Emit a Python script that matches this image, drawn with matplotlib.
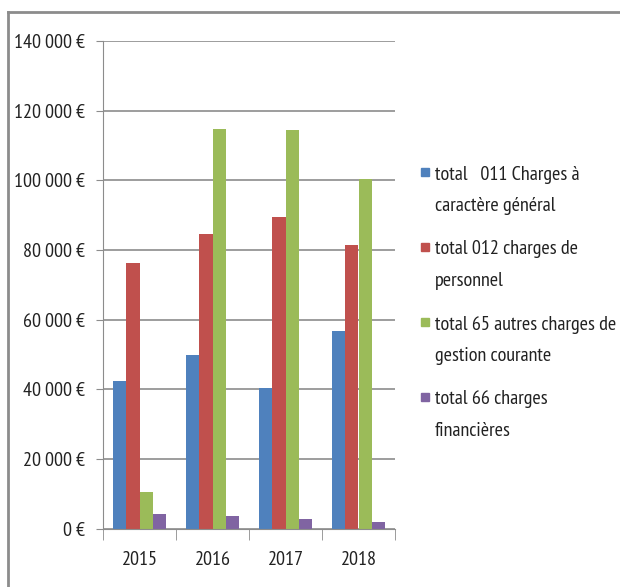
import numpy as np
import matplotlib.pyplot as plt
from matplotlib.lines import Line2D
from matplotlib.patches import Rectangle
from matplotlib.ticker import FuncFormatter

# -----------------------------
# DONNÉES
# -----------------------------

annees = ["2015", "2016", "2017", "2018"]

charges_011 = [42300, 49800, 40500, 56600]
charges_012 = [76200, 84500, 89400, 81300]
charges_65 = [10600, 114700, 114400, 100500]
charges_66 = [4200, 3600, 2800, 2000]

labels = [
    "total   011 Charges à\ncaractère général",
    "total 012 charges de\npersonnel",
    "total 65 autres charges de\ngestion courante",
    "total 66 charges\nfinancières",
]
couleurs = ["#4F81BD", "#C0504D", "#9BBB59", "#8064A2"]

plt.rcParams["font.family"] = ["PT Sans Narrow", "DejaVu Sans"]

# -----------------------------
# GRAPHIQUE
# -----------------------------

W, H = 620, 587
fs = 14.5
fig = plt.figure(figsize=(W / 100, H / 100), dpi=100)
ax = fig.add_axes([103 / W, 1 - 528.6 / H, 292 / W, (528.6 - 41) / H])

x = np.arange(len(annees))
largeur = 0.182
series = [charges_011, charges_012, charges_65, charges_66]
for i, (vals, c) in enumerate(zip(series, couleurs)):
    ax.bar(x + (i - 1.5) * largeur, vals, largeur, color=c, zorder=3)

ax.set_xlim(-0.5, 3.5)
ax.set_ylim(0, 140000)
ax.set_yticks(np.arange(0, 140001, 20000))
ax.yaxis.set_major_formatter(
    FuncFormatter(lambda v, p: ("{:,.0f}\u2009€".format(v)).replace(",", "\u2009")))
ax.set_xticks(x)
ax.set_xticklabels(annees)
ax.set_xticks(np.arange(-0.5, 3.6, 1), minor=True)

ax.grid(axis="y", color="#8C8C8C", linewidth=1.2, zorder=0)
for s in ["top", "right"]:
    ax.spines[s].set_visible(False)
for s in ["left", "bottom"]:
    ax.spines[s].set_color("#8C8C8C")
    ax.spines[s].set_zorder(4)

ax.tick_params(axis="y", length=5, color="#8C8C8C", labelsize=fs, pad=8,
               labelcolor="#222222")
ax.tick_params(axis="x", which="major", length=0, labelsize=fs, pad=16,
               labelcolor="#222222")
ax.tick_params(axis="x", which="minor", length=8, color="#8C8C8C")

# légende
for i, (lab, c) in enumerate(zip(labels, couleurs)):
    yc = 172 + 75 * i
    fig.patches.append(Rectangle((421 / W, 1 - (yc + 4) / H), 8 / W, 8 / H,
                                 transform=fig.transFigure, color=c))
    fig.text(435 / W, 1 - (yc - 6.5) / H, lab, fontsize=fs, color="#222222",
             va="top", ha="left", linespacing=1.95)

# cadre
fig.add_artist(Line2D([8 / W, 8 / W], [0, 1 - 12 / H], color="#8C8C8C", lw=2))
fig.add_artist(Line2D([8 / W, 1], [1 - 12 / H, 1 - 12 / H], color="#8C8C8C", lw=2))

fig.savefig("out.png", dpi=100)
